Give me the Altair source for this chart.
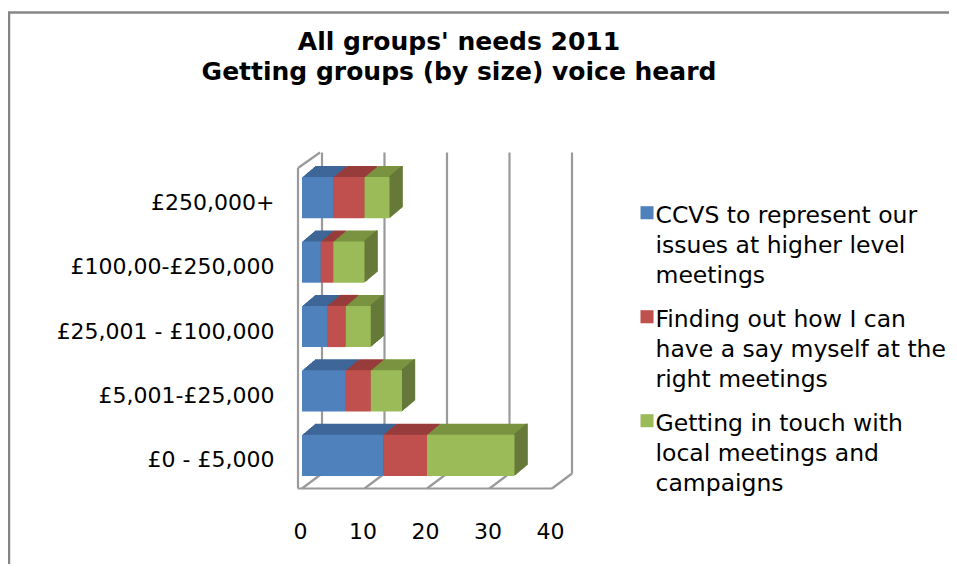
import altair as alt
import pandas as pd

# ---- data ----
title_lines = ["All groups' needs 2011", "Getting groups (by size) voice heard"]
sizes = ["£250,000+", "£100,00-£250,000", "£25,001 - £100,000", "£5,001-£25,000", "£0 - £5,000"]
series = [
    "CCVS to represent our\nissues at higher level\nmeetings",
    "Finding out how I can\nhave a say myself at the\nright meetings",
    "Getting in touch with\nlocal meetings and\ncampaigns",
]
represent = [5, 3, 4, 7, 13]
have_say = [5, 2, 3, 4, 7]
get_touch = [4, 5, 4, 5, 14]
x_ticks = [0, 10, 20, 30, 40]

# ---- styles ----
FONT = "DejaVu Sans"
front_colors = ["#4F81BD", "#C0504D", "#9BBB59"]
top_colors = ["#3E6697", "#973D3B", "#7A9341"]
side_color = "#66793A"
grid_color = "#9A9A9A"
DEPTH_X, DEPTH_Y, STEPS = 13, 11, 13

rows = []
for i, (s, vals) in enumerate(zip(series, [represent, have_say, get_touch])):
    for c, v in zip(sizes, vals):
        rows.append({"size": c, "series": s, "value": v, "order": i})
df = pd.DataFrame(rows)
ticks_df = pd.DataFrame({"v": x_ticks})

W, H = 250, 322

x_scale = alt.Scale(domain=[0, 40], nice=False, zero=True)
x_axis = alt.Axis(values=x_ticks, grid=False, domain=False, ticks=False,
                  labelFont=FONT, labelFontSize=22, labelColor="#000000",
                  labelPadding=34, labelFlush=False, labelOffset=-2, title=None)
y_scale = alt.Scale(paddingInner=0.36, paddingOuter=0.18)
y_axis = alt.Axis(domain=False, ticks=False, grid=False, labelFont=FONT,
                  labelFontSize=22, labelColor="#000000", labelPadding=28,
                  labelOffset=5, title=None, labelLimit=300)

def X(field, **kw):
    return alt.X(field, scale=x_scale, axis=x_axis, **kw)

def Y():
    return alt.Y("size:N", sort=sizes, scale=y_scale, axis=y_axis)

top_expr = ("datum.order == 0 ? '%s' : (datum.order == 1 ? '%s' : '%s')"
            % tuple(top_colors))

layers = []

# outer chart border
layers.append(
    alt.Chart(pd.DataFrame({"a": [0]})).mark_rect(
        fill="transparent", stroke="#868686", strokeWidth=2.5
    ).encode(x=alt.value(-293), x2=alt.value(700), y=alt.value(-153), y2=alt.value(600))
)

# back wall gridlines
layers.append(
    alt.Chart(ticks_df).mark_rule(color=grid_color, strokeWidth=2.2, xOffset=20).encode(
        x=X("v:Q"), y=alt.value(-13), y2=alt.value(308)
    )
)
# floor diagonals
layers.append(
    alt.Chart(ticks_df).mark_rule(color=grid_color, strokeWidth=2.2, x2Offset=20).encode(
        x=X("v:Q"), x2="v:Q", y=alt.value(323), y2=alt.value(308)
    )
)
# floor front line, left wall
frame = alt.Chart(pd.DataFrame({"a": [0]}))
layers.append(frame.mark_rule(color=grid_color, strokeWidth=2.2).encode(
    x=alt.value(-4), x2=alt.value(250), y=alt.value(323)))
layers.append(frame.mark_rule(color=grid_color, strokeWidth=2.2).encode(
    x=alt.value(-4), y=alt.value(2.5), y2=alt.value(323)))
layers.append(frame.mark_rule(color=grid_color, strokeWidth=2.2).encode(
    x=alt.value(-4), x2=alt.value(18), y=alt.value(2.5), y2=alt.value(-13)))

# 3D depth copies (top faces)
for k in range(STEPS, 0, -1):
    dx = DEPTH_X * k / STEPS
    dy = DEPTH_Y * k / STEPS
    layers.append(
        alt.Chart(df).transform_calculate(topc=top_expr).mark_bar(
            xOffset=dx, x2Offset=dx, yOffset=-dy, y2Offset=-dy
        ).encode(
            x=X("value:Q", stack="zero"),
            y=Y(),
            fill=alt.Fill("topc:N", scale=None),
            order=alt.Order("order:Q"),
        )
    )
# right side faces
for k in range(1, STEPS + 1):
    dx = DEPTH_X * k / STEPS
    dy = DEPTH_Y * k / STEPS
    layers.append(
        alt.Chart(df).transform_aggregate(total="sum(value)", groupby=["size"]).mark_bar(
            color=side_color, xOffset=dx - 1.6, x2Offset=dx + 0.2, yOffset=-dy, y2Offset=-dy
        ).encode(x=X("total:Q"), x2="total:Q", y=Y())
    )

# front faces
layers.append(
    alt.Chart(df).mark_bar().encode(
        x=X("value:Q", stack="zero"),
        y=Y(),
        color=alt.Color(
            "series:N", sort=series,
            scale=alt.Scale(domain=series, range=front_colors),
            legend=alt.Legend(
                orient="none", legendX=330, legendY=27, title=None,
                labelFont=FONT, labelFontSize=23.5, labelLimit=600,
                labelExpr="split(datum.label, '\\n')",
                symbolType="M-0.5,0.3H1.5V2.3H-0.5Z", symbolSize=170, symbolStrokeWidth=0,
                rowPadding=8, labelBaseline="top", labelOffset=0,
            ),
        ),
        order=alt.Order("order:Q"),
    )
)

# title
layers.append(
    alt.Chart(pd.DataFrame({"t": ["\n".join(title_lines)]})).mark_text(
        lineBreak="\n", font=FONT, fontSize=25, fontWeight="bold", lineHeight=30,
        align="center", baseline="middle", color="#000000"
    ).encode(text="t:N", x=alt.value(157), y=alt.value(-124))
)

chart = alt.layer(*layers).properties(
    width=W, height=H,
    autosize=alt.AutoSizeParams(type="none"),
    padding={"left": 294, "top": 157.5, "right": 397, "bottom": 76.5},
    background="#FFFFFF",
).configure(style={"guide-label": {"lineHeight": 30}}).configure_view(stroke=None)

chart.save("out.html", embed_options={"renderer": "svg", "actions": False})
